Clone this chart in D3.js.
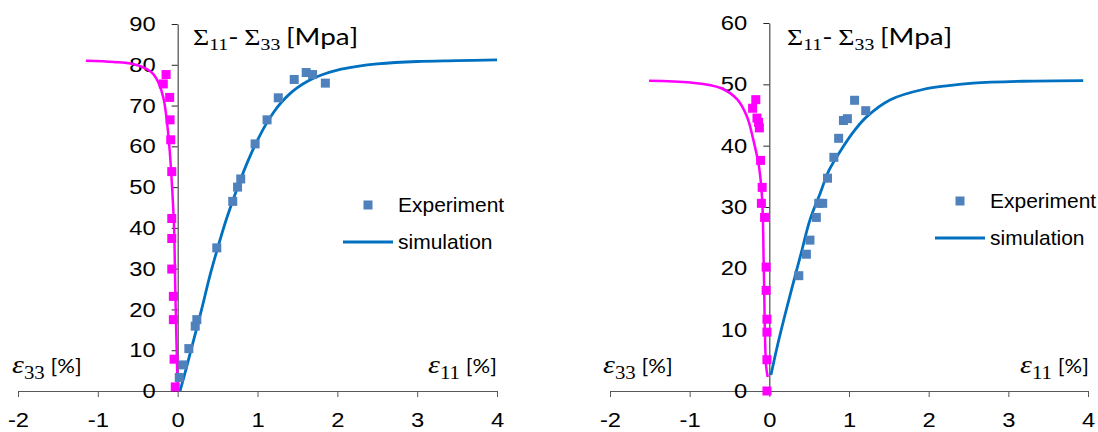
<!DOCTYPE html>
<html>

<head>
    <title>Stress strain curves</title>
    <script src="https://d3js.org/d3.v7.min.js" charset="utf-8"></script>
    <style>
        body { margin: 0; background: #fff; }
        svg { display: block; }
    </style>
</head>

<body>
    <script>
        // ---- data: [strain %, stress MPa] ----
        var xTicks = [-2, -1, 0, 1, 2, 3, 4];

        // left chart
        var leftYTicks = [0, 10, 20, 30, 40, 50, 60, 70, 80, 90];
        var leftExp11 = [[0.02, 3.3], [0.07, 6.4], [0.14, 10.4], [0.22, 15.9], [0.24, 17.5], [0.49, 35.1],
            [0.69, 46.5], [0.75, 50.0], [0.79, 52.0], [0.97, 60.6], [1.12, 66.5], [1.26, 71.9],
            [1.46, 76.4], [1.61, 78.1], [1.69, 77.6], [1.85, 75.5]];
        var leftSim11 = [[0.03, 0], [0.1, 5], [0.2, 12.5], [0.3, 20], [0.4, 28], [0.5, 35], [0.6, 41.5],
            [0.7, 47.2], [0.8, 52.5], [0.9, 57.3], [1.0, 61.5], [1.1, 65.2], [1.2, 68.3], [1.3, 70.8],
            [1.4, 72.8], [1.5, 74.4], [1.65, 76.2], [1.8, 77.5], [2.0, 78.7], [2.25, 79.6], [2.5, 80.2],
            [3.0, 80.8], [3.5, 81.0], [4.0, 81.2]];
        var leftExp33 = [[-0.145, 77.6], [-0.18, 75.3], [-0.10, 72.0], [-0.095, 66.5], [-0.087, 61.6],
            [-0.074, 53.8], [-0.074, 42.3], [-0.074, 37.4], [-0.074, 29.9], [-0.054, 23.2],
            [-0.054, 17.5], [-0.045, 7.8], [-0.03, 1.0]];
        var leftSim33 = [[-1.15, 81.0], [-0.8, 80.7], [-0.56, 80.2], [-0.39, 79.0], [-0.3, 77.6],
            [-0.24, 75.6], [-0.18, 72.0], [-0.14, 67.0], [-0.1, 59.0], [-0.07, 50.0], [-0.045, 40],
            [-0.03, 25], [-0.015, 12], [0.0, 0]];

        // right chart
        var rightYTicks = [0, 10, 20, 30, 40, 50, 60];
        var rightExp11 = [[0.37, 18.8], [0.465, 22.3], [0.51, 24.6], [0.59, 28.3], [0.62, 30.6],
            [0.67, 30.6], [0.73, 34.7], [0.81, 38.1], [0.87, 41.2], [0.93, 44.1], [0.98, 44.4],
            [1.07, 47.4], [1.21, 45.7]];
        var rightSim11 = [[0.02, 2.6], [0.1, 7.3], [0.2, 12.6], [0.3, 17.6], [0.4, 22.5], [0.51, 27.9],
            [0.64, 32.3], [0.75, 36.0], [0.93, 39.9], [1.07, 42.5], [1.22, 44.7], [1.52, 47.5],
            [1.94, 49.2], [2.25, 49.8], [2.56, 50.2], [3.19, 50.5], [3.94, 50.6]];
        var rightExp33 = [[-0.17, 47.5], [-0.21, 46.1], [-0.155, 44.5], [-0.135, 43.8], [-0.125, 42.9],
            [-0.11, 37.6], [-0.09, 33.2], [-0.1, 30.6], [-0.06, 28.3], [-0.04, 20.2], [-0.04, 16.4],
            [-0.03, 11.7], [-0.03, 9.6], [-0.03, 5.1], [-0.03, 0]];
        var rightSim33 = [[-1.51, 50.6], [-0.99, 50.3], [-0.61, 49.4], [-0.4, 47.5], [-0.28, 44.7],
            [-0.2, 40.9], [-0.13, 36.6], [-0.09, 31.2], [-0.07, 20.3], [-0.04, 4.0], [-0.02, 2.3]];

        var legendLabels = ["Experiment", "simulation"];

        // ---- styles ----
        var blueMarker = "#4f81bd", blueLine = "#0070c0", pink = "#ff00ff";
        var sx = 1.16; // the picture is a bit wider than tall, text included
        var sans = "'Liberation Sans', Arial, sans-serif";
        var serif = "'Liberation Serif', 'DejaVu Serif', serif";
        var lbl = "Lato, 'Open Sans', sans-serif";

        var svg = d3.select("body").append("svg")
            .attr("width", 1098)
            .attr("height", 432);

        function drawChart(c) {
            var x = d3.scaleLinear().domain([-2, 4]).range([c.x0, c.x1]);
            var y = d3.scaleLinear().domain([0, c.yTicks[c.yTicks.length - 1]]).range([391, c.yTop]);
            var g = svg.append("g");

            // x axis
            var xa = g.append("g")
                .attr("transform", "translate(0," + y(0) + ")")
                .call(d3.axisBottom(x).tickValues(xTicks).tickSize(6).tickSizeOuter(6).tickPadding(15)
                    .tickFormat(function (d) { return String(d); }));
            xa.select(".domain").attr("stroke", "#595959");
            xa.selectAll(".tick line").attr("stroke", "#595959");
            xa.selectAll(".tick text")
                .attr("font-family", sans).attr("font-size", 20.5).attr("fill", "#000")
                .attr("transform", "scale(" + sx + ",1)")
                .attr("x", 0);

            // y axis at strain 0
            var ya = g.append("g")
                .attr("transform", "translate(" + x(0) + ",0)")
                .call(d3.axisLeft(y).tickValues(c.yTicks).tickSize(6).tickSizeOuter(0).tickPadding(13));
            ya.select(".domain").attr("stroke", "#262626");
            ya.selectAll(".tick line").attr("stroke", "#262626");
            ya.selectAll(".tick text")
                .attr("font-family", sans).attr("font-size", 20.5).attr("fill", "#000")
                .attr("transform", "scale(" + sx + ",1)");

            var line = d3.line()
                .x(function (d) { return x(d[0]); })
                .y(function (d) { return y(d[1]); })
                .curve(d3.curveCatmullRom.alpha(0.5));

            g.append("path").datum(c.sim33)
                .attr("d", line).attr("fill", "none").attr("stroke", pink).attr("stroke-width", 2.5);
            g.append("path").datum(c.sim11)
                .attr("d", line).attr("fill", "none").attr("stroke", blueLine).attr("stroke-width", 2.8);

            var m = 9;
            g.selectAll("rect.e33").data(c.exp33).enter().append("rect")
                .attr("class", "e33")
                .attr("x", function (d) { return x(d[0]) - m / 2; })
                .attr("y", function (d) { return y(d[1]) - m / 2; })
                .attr("width", m).attr("height", m).attr("fill", pink);
            g.selectAll("rect.e11").data(c.exp11).enter().append("rect")
                .attr("class", "e11")
                .attr("x", function (d) { return x(d[0]) - m / 2; })
                .attr("y", function (d) { return y(d[1]) - m / 2; })
                .attr("width", m).attr("height", m).attr("fill", blueMarker);

            // title
            var t = g.append("text")
                .attr("transform", "translate(" + c.titleX + ",45) scale(" + sx + ",1)")
                .attr("font-size", 24).attr("fill", "#000");
            t.append("tspan").attr("font-family", serif).text("Σ");
            t.append("tspan").attr("font-family", serif).attr("font-size", 17).attr("dy", 5).text("11");
            t.append("tspan").attr("font-family", lbl).attr("dy", -5).text("-");
            t.append("tspan").attr("font-family", serif).attr("dx", 5).text("Σ");
            t.append("tspan").attr("font-family", serif).attr("font-size", 17).attr("dy", 5).text("33");
            t.append("tspan").attr("font-family", lbl).attr("dy", -5).attr("dx", 5).text("[Mpa]");

            // strain labels
            function strainLabel(px, sub, anchor) {
                var s = g.append("text")
                    .attr("transform", "translate(" + px + ",373) scale(" + sx + ",1)")
                    .attr("text-anchor", anchor).attr("fill", "#000");
                s.append("tspan").attr("font-family", serif).attr("font-style", "italic")
                    .attr("font-size", 26).text("ε");
                s.append("tspan").attr("font-family", serif).attr("font-size", 18).attr("dy", 6).text(sub);
                s.append("tspan").attr("font-family", lbl).attr("font-size", 19).attr("dy", -6).attr("dx", 5)
                    .text("[%]");
            }
            strainLabel(c.e33X, "33", "start");
            strainLabel(c.e11X, "11", "end");

            // legend
            var lg = g.append("g").attr("transform", "translate(" + c.legX + "," + c.legY + ")");
            lg.append("rect").attr("x", 25 - m / 2).attr("y", -m / 2).attr("width", m).attr("height", m)
                .attr("fill", blueMarker);
            lg.append("line").attr("x1", 0).attr("x2", 50).attr("y1", 37).attr("y2", 37)
                .attr("stroke", blueLine).attr("stroke-width", 2.8);
            lg.selectAll("text").data(legendLabels).enter().append("text")
                .attr("transform", function (d, i) { return "translate(55," + (i * 37) + ") scale(1.05,1)"; })
                .attr("dy", "0.35em")
                .attr("font-family", sans).attr("font-size", 20).attr("fill", "#000")
                .text(function (d) { return d; });
        }

        drawChart({
            x0: 18, x1: 497, yTop: 24, yTicks: leftYTicks,
            exp11: leftExp11, sim11: leftSim11, exp33: leftExp33, sim33: leftSim33,
            titleX: 193, e33X: 12, e11X: 497, legX: 343, legY: 205
        });
        drawChart({
            x0: 610, x1: 1088, yTop: 23, yTicks: rightYTicks,
            exp11: rightExp11, sim11: rightSim11, exp33: rightExp33, sim33: rightSim33,
            titleX: 787, e33X: 603, e11X: 1089, legX: 935, legY: 201
        });
    </script>
</body>

</html>
